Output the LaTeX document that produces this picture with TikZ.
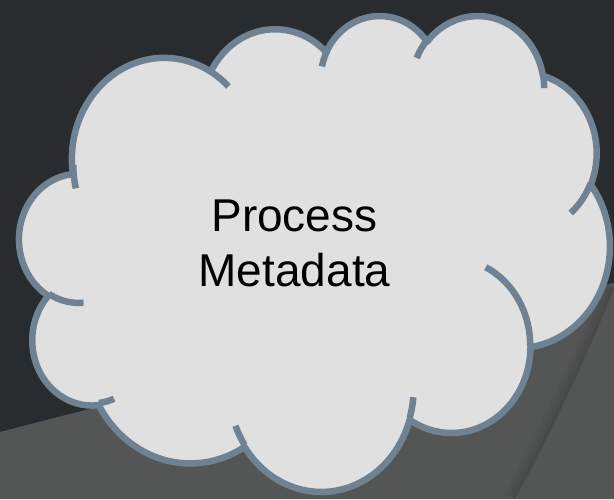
\documentclass[tikz,border=0pt]{standalone}
\usepackage{fontspec}
\newfontfamily\lsans{Liberation Sans}
\definecolor{bgdark}{HTML}{282C2E}
\definecolor{bggray}{HTML}{545555}
\definecolor{cldfillc}{HTML}{E0E0E0}
\definecolor{cldlinec}{HTML}{6E8293}
\def\SX{13.663}
\def\SY{11.013}
\def\XO{19.44}
\def\YO{14.44}
\newcommand\cldarc[4]{%
  \pgfmathsetmacro\cldTa{atan2((#1)*sin(#3),(#2)*cos(#3))}%
  \pgfmathsetmacro\cldTa{-(\cldTa+360*round(((#3)-\cldTa)/360))}%
  \pgfmathsetmacro\cldTb{atan2((#1)*sin((#3)+(#4)),(#2)*cos((#3)+(#4)))}%
  \pgfmathsetmacro\cldTb{-(\cldTb+360*round(((#3)+(#4)-\cldTb)/360))}%
  \pgfmathsetmacro\cldRx{(#1)*\SX}%
  \pgfmathsetmacro\cldRy{(#2)*\SY}%
  \xdef\cldpath{\cldpath arc[start angle=\cldTa, end angle=\cldTb, x radius=\cldRx pt, y radius=\cldRy pt]}%
}
\newcommand\cldmove[2]{%
  \pgfmathsetmacro\cldX{\XO+(#1)*\SX}%
  \pgfmathsetmacro\cldY{-\YO-(#2)*\SY}%
  \xdef\cldpath{\cldpath (\cldX pt,\cldY pt)}%
}
\tikzset{
  cloudshape/.style={fill=cldfillc, draw=cldlinec, line width=6.5pt, line join=round},
  cloudtick/.style={draw=cldlinec, line width=6.5pt},
  cloudtext/.style={font=\lsans\fontsize{46}{55}\selectfont, align=center, text=black}
}
\begin{document}
\begin{tikzpicture}[x=1pt,y=1pt]
\useasboundingbox (0,0) rectangle (614,-499);
\fill[bgdark] (0,0) rectangle (614,-499);
\fill[bggray] (0,-432) .. controls (200,-380) and (420,-325) .. (614,-283) -- (614,-499) -- (0,-499) -- cycle;
\begin{scope}
\clip (0,-499) -- (515,-499) .. controls (555,-425) and (592,-345) .. (614,-288) -- (614,0) -- (0,0) -- cycle;
\foreach \w in {6,12,18,24}
  \draw[black, opacity=0.035, line width=\w pt] (515,-499) .. controls (555,-425) and (592,-345) .. (614,-288);
\end{scope}
% main outline
\gdef\cldpath{}
\cldmove{3.9}{14.37}
\cldarc{6.753}{9.19}{-190.487483}{123.780533}
\cldarc{5.333}{7.267}{-144.102383}{89.945233}
\cldarc{4.365}{5.945}{-145.807917}{99.723017}
\cldarc{4.857}{6.595}{-130.986067}{117.241733}
\cldarc{5.333}{7.273}{-78.708883}{109.026917}
\cldarc{6.775}{9.22}{-46.26725}{130.269}
\cldarc{5.785}{7.867}{0.625017}{114.033333}
\cldarc{6.752}{9.215}{22.4516}{115.17255}
\cldarc{7.72}{10.543}{66.242633}{75.711017}
\cldarc{4.36}{5.918}{-274.942083}{146.735567}
\cldarc{4.345}{5.945}{-246.8285}{152.51885}
\global\let\cldmain\cldpath
% inner ticks
\gdef\cldpath{}
\cldmove{4.693}{26.177}\cldarc{4.345}{5.945}{86.742}{26.4295}
\cldmove{6.928}{34.899}\cldarc{4.36}{5.918}{73.61047}{11.44747}
\cldmove{16.478}{39.09}\cldarc{6.752}{9.215}{137.62415}{14.0811}
\cldmove{28.827}{34.751}\cldarc{6.752}{9.215}{6.45327}{15.99835}
\cldmove{34.129}{22.954}\cldarc{5.785}{7.867}{-70.29235}{70.91737}
\cldmove{41.798}{15.354}\cldarc{5.333}{7.273}{30.31803}{27.7515}
\cldmove{38.324}{5.426}\cldarc{4.857}{6.595}{-13.74433}{14.8589}
\cldmove{29.078}{3.952}\cldarc{4.857}{6.595}{-149.18145}{18.19537}
\cldmove{22.141}{4.72}\cldarc{4.365}{5.945}{-163.49427}{17.68635}
\cldmove{14.0}{5.192}\cldarc{6.753}{9.19}{-66.70695}{12.31935}
\cldmove{4.127}{15.789}\cldarc{6.753}{9.19}{162.0477}{17.82133}
\global\let\cldticks\cldpath
\def\cldDrawMain{\path[cloudshape]}
\def\cldDrawTicks{\path[cloudtick]}
\expandafter\cldDrawMain\cldmain -- cycle;
\expandafter\cldDrawTicks\cldticks;
\node[cloudtext] (label) at (294.5,-243.5) {Process\\Metadata};
\end{tikzpicture}
\end{document}
